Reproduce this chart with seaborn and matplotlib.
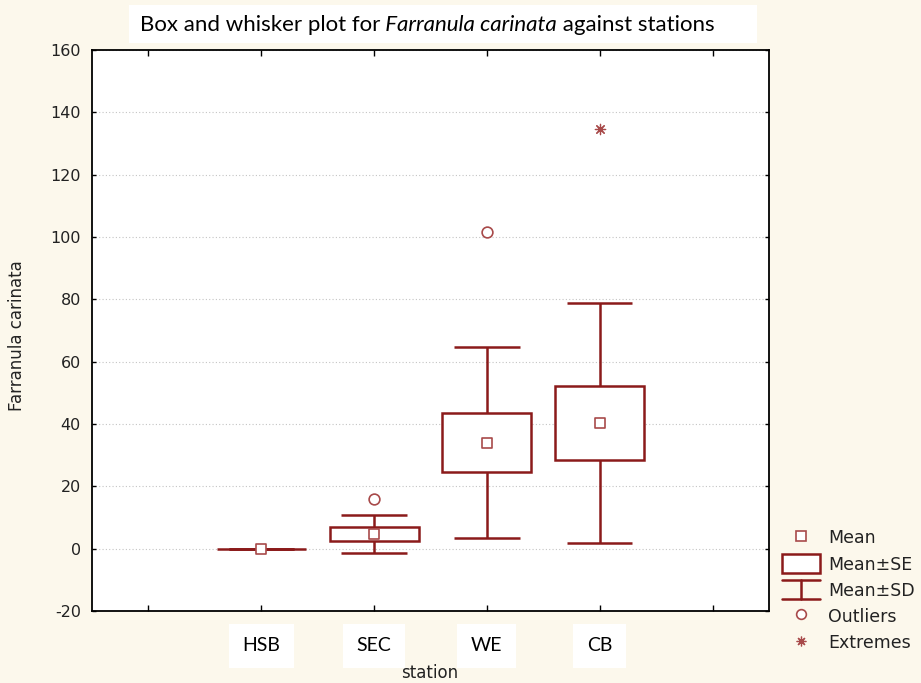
import numpy as np
import pandas as pd
import matplotlib
matplotlib.use("Agg")
import matplotlib.pyplot as plt
import seaborn as sns
from matplotlib.patches import Rectangle
from matplotlib.lines import Line2D
from matplotlib.legend_handler import HandlerBase

# ---------------- data ----------------
stations = ["HSB", "SEC", "WE", "CB"]
means = [0.0, 4.7, 34.0, 40.4]
se = [0.0, 2.25, 9.45, 11.8]
sd = [0.0, 6.15, 30.65, 38.5]
outlier_station = ["SEC", "WE"]
outlier_values = [15.8, 101.7]
extreme_station = ["CB"]
extreme_values = [134.8]
y_ticks = [-20, 0, 20, 40, 60, 80, 100, 120, 140, 160]
x_tick_labels = [""] + stations + [""]

# ---------------- style ----------------
sns.set_theme(style="white")
plt.rcParams["font.family"] = ["DejaVu Sans"]
plt.rcParams["axes.unicode_minus"] = False
BG = "#FCF8EC"
DR = "#8B1A1A"
MK = "#A84A4A"

fig = plt.figure(figsize=(9.21, 6.83), dpi=100, facecolor=BG)
ax = fig.add_axes([92 / 921, 1 - 611 / 683, (769 - 92) / 921, (611 - 50) / 683])
ax.set_facecolor("white")

pos = {s: i + 1 for i, s in enumerate(stations)}
xs = np.array([pos[s] for s in stations], dtype=float)
m = np.array(means)
e = np.array(se)
d = np.array(sd)

BOX_W = 0.79
CAP_W = 0.58

# Mean +/- SE boxes
for x, mm, ee in zip(xs, m, e):
    ax.add_patch(Rectangle((x - BOX_W / 2, mm - ee), BOX_W, 2 * ee,
                           facecolor="white", edgecolor=DR, lw=1.8, zorder=3))
# Mean +/- SD whiskers
ax.vlines(xs, m + e, m + d, color=DR, lw=1.8, zorder=2)
ax.vlines(xs, m - d, m - e, color=DR, lw=1.8, zorder=2)
ax.hlines(m + d, xs - CAP_W / 2, xs + CAP_W / 2, color=DR, lw=1.8, zorder=2)
ax.hlines(m - d, xs - CAP_W / 2, xs + CAP_W / 2, color=DR, lw=1.8, zorder=2)

df_mean = pd.DataFrame({"x": xs, "y": m})
sns.scatterplot(data=df_mean, x="x", y="y", marker="s", s=55, color="white",
                edgecolor=MK, linewidth=1.2, zorder=5, ax=ax)
df_out = pd.DataFrame({"x": [pos[s] for s in outlier_station], "y": outlier_values})
sns.scatterplot(data=df_out, x="x", y="y", marker="o", s=60, color="white",
                edgecolor=MK, linewidth=1.2, zorder=5, ax=ax)
df_ext = pd.DataFrame({"x": [pos[s] for s in extreme_station], "y": extreme_values})
sns.scatterplot(data=df_ext, x="x", y="y", marker=(8, 2, 0), s=55, color=MK,
                linewidth=0.9, zorder=5, ax=ax)

ax.set_xlim(-0.5, 5.5)
ax.set_ylim(-20, 160)
ax.set_yticks(y_ticks)
ax.set_xticks(range(len(x_tick_labels)))
ax.set_xticklabels(x_tick_labels, fontfamily="Lato", fontsize=14)
for lbl in ax.get_xticklabels():
    lbl.set_bbox(dict(facecolor="white", edgecolor="none", pad=10))
ax.tick_params(axis="x", direction="in", top=True, bottom=True, length=4,
               width=1, pad=19, colors="black")
ax.tick_params(axis="y", direction="in", left=True, right=True, length=3,
               width=1, pad=8, labelsize=11.5, colors="black")
for lbl in ax.get_yticklabels():
    lbl.set_color("#222222")
ax.yaxis.grid(True, linestyle=(0, (1, 2)), color="#c4c4c4", lw=0.8)
ax.xaxis.grid(False)
ax.set_axisbelow(True)
for sp in ax.spines.values():
    sp.set_color("black")
    sp.set_linewidth(1.3)

ax.set_xlabel("station", fontsize=12, color="#222222")
ax.set_ylabel("Farranula carinata", fontsize=12, color="#222222")
ax.xaxis.set_label_coords(0.498, -0.094)
ax.xaxis.label.set_va("top")
ax.yaxis.set_label_coords(-0.097, 0.49)

# ---------------- title ----------------
fig.patches.append(Rectangle((129 / 921, 1 - 43 / 683), (757 - 129) / 921, 38 / 683,
                             transform=fig.transFigure, facecolor="white",
                             edgecolor="none", zorder=-1))
t1 = fig.text(140 / 921, 1 - 31 / 683, "Box and whisker plot for", fontfamily="Lato",
              fontsize=16, va="baseline", color="black")
t2 = ax.annotate(" Farranula carinata", xy=(1, 0), xycoords=t1, va="bottom",
                 fontfamily="Lato", fontstyle="italic", fontsize=16, color="black",
                 annotation_clip=False)
t3 = ax.annotate(" against stations", xy=(1, 0), xycoords=t2, va="bottom",
                 fontfamily="Lato", fontsize=16, color="black", annotation_clip=False)


# ---------------- legend ----------------
class SDHandler(HandlerBase):
    def create_artists(self, legend, orig_handle, xdescent, ydescent, width, height,
                       fontsize, trans):
        x0, y0 = -xdescent, -ydescent
        top = Line2D([x0, x0 + width], [y0 + height, y0 + height], color=DR, lw=1.8)
        bot = Line2D([x0, x0 + width], [y0, y0], color=DR, lw=1.8)
        stem = Line2D([x0 + width / 2] * 2, [y0, y0 + height], color=DR, lw=1.8)
        for a in (top, bot, stem):
            a.set_transform(trans)
        return [top, bot, stem]


h_mean = Line2D([], [], ls="", marker="s", ms=7, mfc="white", mec=MK, mew=1.2)
h_se = Rectangle((0, 0), 1, 1, facecolor="white", edgecolor=DR, lw=1.8)
h_sd = object()
h_out = Line2D([], [], ls="", marker="o", ms=7, mfc="white", mec=MK, mew=1.2)
h_ext = Line2D([], [], ls="", marker=(8, 2, 0), ms=7, color=MK, mew=0.9)

leg = fig.legend([h_mean, h_se, h_sd, h_out, h_ext],
                 ["Mean", "Mean±SE", "Mean±SD", "Outliers", "Extremes"],
                 handler_map={h_sd: SDHandler()},
                 loc="upper left", bbox_to_anchor=(782 / 921, 1 - 528 / 683),
                 frameon=False, fontsize=12.5, handlelength=2.2, handleheight=1.3,
                 labelspacing=0.4, handletextpad=0.45, borderpad=0, borderaxespad=0)
for t in leg.get_texts():
    t.set_color("#222222")

fig.savefig("out.png", dpi=100, facecolor=BG)
